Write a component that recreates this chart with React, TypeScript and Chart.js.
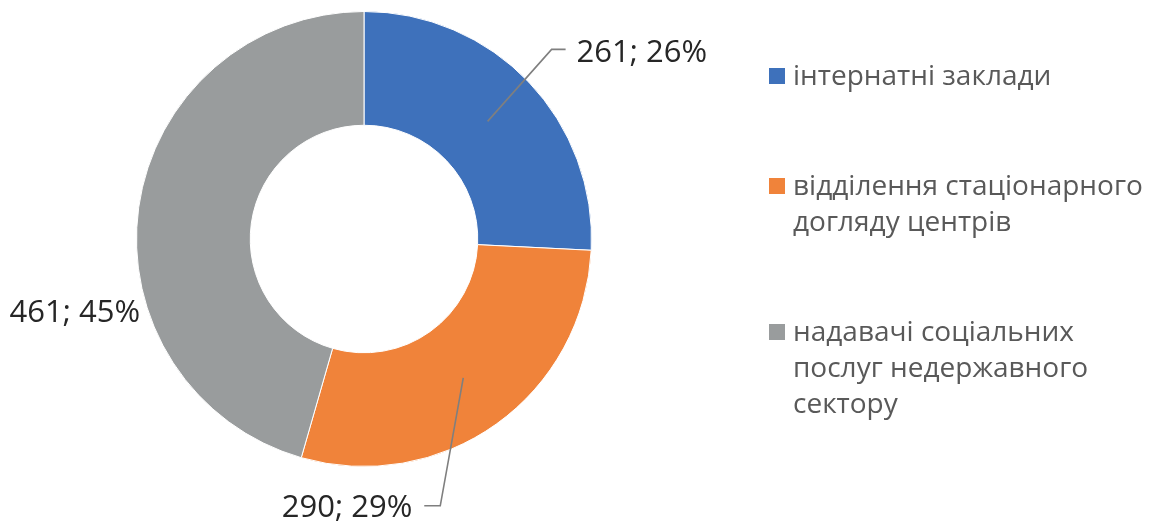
import React, { useEffect, useRef } from "react";
import { Chart, registerables } from "chart.js";

Chart.register(...registerables);

const categories = [
  "інтернатні заклади",
  "відділення стаціонарного\nдогляду центрів",
  "надавачі соціальних\nпослуг недержавного\nсектору",
];
const values = [261, 290, 461];
const percentLabels = ["26%", "29%", "45%"];
const colors = ["#3E71BB", "#F0833A", "#999C9D"];

// data-label placement relative to each slice's centroid (layout only)
const labelLayout = [
  { elbow: [64, -72], end: [78, -72], text: [89, -59], align: "left" },
  { elbow: [-23, 128], end: [-39, 128], text: [-51, 139], align: "right" },
  { elbow: null, end: null, text: [-55, 107], align: "right" },
];

const labelPlugin = {
  id: "outerLabels",
  afterDatasetsDraw(chart: any) {
    const ctx = chart.ctx;
    const meta = chart.getDatasetMeta(0);
    const ds = chart.data.datasets[0];
    meta.data.forEach((arc: any, i: number) => {
      const c = arc.tooltipPosition(false);
      const lay = labelLayout[i];
      ctx.save();
      if (lay.elbow && lay.end) {
        ctx.strokeStyle = "#7F7F7F";
        ctx.lineWidth = 1.6;
        ctx.beginPath();
        ctx.moveTo(c.x, c.y);
        ctx.lineTo(c.x + lay.elbow[0], c.y + lay.elbow[1]);
        ctx.lineTo(c.x + lay.end[0], c.y + lay.end[1]);
        ctx.stroke();
      }
      ctx.font = "31px 'Open Sans'";
      ctx.fillStyle = "#262626";
      ctx.textAlign = lay.align;
      ctx.textBaseline = "alphabetic";
      ctx.fillText(`${ds.data[i]}; ${percentLabels[i]}`, c.x + lay.text[0], c.y + lay.text[1]);
      ctx.restore();
    });
  },
};

export default function App() {
  const ref = useRef<HTMLCanvasElement>(null);
  useEffect(() => {
    if (!ref.current) return;
    const chart = new Chart(ref.current, {
      type: "doughnut",
      data: {
        labels: categories,
        datasets: [
          {
            data: values,
            backgroundColor: colors,
            borderColor: "#FFFFFF",
            borderWidth: 1,
          },
        ],
      },
      options: {
        responsive: false,
        animation: false,
        devicePixelRatio: 1,
        cutout: "50%",
        layout: { padding: { left: 136, right: 558, top: 11, bottom: 55 } },
        plugins: {
          legend: { display: false },
          tooltip: { enabled: false },
        },
      },
      plugins: [labelPlugin],
    });
    return () => chart.destroy();
  }, []);

  return (
    <div style={{ position: "fixed", left: 0, top: 0, width: 1150, height: 522, background: "#fff" }}>
      <canvas ref={ref} width={1150} height={522} style={{ position: "absolute", left: 0, top: 0 }} />
      <div
        style={{
          position: "absolute",
          left: 769,
          top: 56,
          display: "flex",
          flexDirection: "column",
          gap: 74,
          fontFamily: "'Open Sans', sans-serif",
          fontSize: 28,
          lineHeight: "36px",
          color: "#595959",
        }}
      >
        {categories.map((c, i) => (
          <div key={i} style={{ display: "flex", alignItems: "flex-start" }}>
            <span
              style={{
                display: "inline-block",
                width: 16,
                height: 16,
                marginTop: 12,
                marginRight: 8,
                background: colors[i],
                flex: "none",
              }}
            />
            <span style={{ whiteSpace: "pre-line" }}>{c}</span>
          </div>
        ))}
      </div>
    </div>
  );
}
